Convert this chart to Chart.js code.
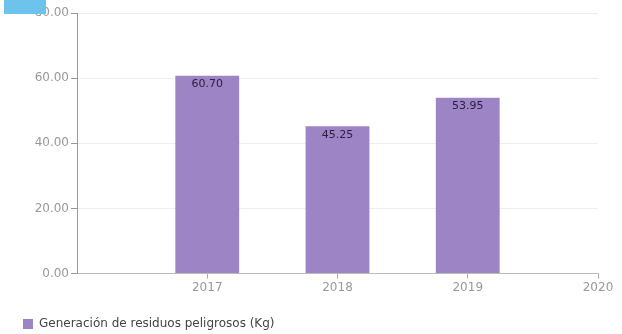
<!DOCTYPE html>
<html>
<head>
<meta charset="utf-8">
<script src="https://cdn.jsdelivr.net/npm/chart.js@4/dist/chart.umd.min.js"></script>
<style>
  html, body { margin: 0; padding: 0; background: #fff; }
  #wrap { position: relative; width: 622px; height: 334px; overflow: hidden; }
  #tag { position: absolute; left: 4px; top: 0; width: 42px; height: 14px; background: #6cc4ec; z-index: 2; }
</style>
</head>
<body>
<div id="wrap">
  <div id="tag"></div>
  <canvas id="chart" width="622" height="340"></canvas>
</div>
<script>
// Chart data
const years = ["", "2017", "2018", "2019", "2020"];
const residuos = [null, 60.70, 45.25, 53.95, null];
const seriesName = "Generación de residuos peligrosos (Kg)";
const yTicks = [0, 20, 40, 60, 80];

const barColor = "rgb(157, 132, 196)";

// draw value on top of each bar (inside)
const valueLabels = {
  id: "valueLabels",
  afterDatasetsDraw(chart) {
    const ctx = chart.ctx;
    const meta = chart.getDatasetMeta(0);
    ctx.save();
    ctx.font = "11px 'DejaVu Sans'";
    ctx.fillStyle = "#2a2140";
    ctx.textAlign = "center";
    ctx.textBaseline = "top";
    meta.data.forEach((bar, i) => {
      if (residuos[i] == null) return;
      ctx.fillText(residuos[i].toFixed(2), bar.x, bar.y + 3);
    });
    ctx.restore();
  }
};

const ctx = document.getElementById("chart").getContext("2d");
new Chart(ctx, {
  type: "bar",
  data: {
    labels: years,
    datasets: [{
      label: seriesName,
      data: residuos,
      backgroundColor: barColor,
      borderWidth: 0,
      barPercentage: 0.7,
      categoryPercentage: 0.7
    }]
  },
  options: {
    responsive: false,
    animation: false,
    layout: { padding: { left: 11, right: 24, top: 13, bottom: 0 } },
    plugins: {
      legend: {
        position: "bottom",
        align: "start",
        labels: {
          boxWidth: 10,
          boxHeight: 10,
          padding: 12,
          color: "#444",
          font: { size: 12, family: "'DejaVu Sans'" }
        }
      },
      tooltip: { enabled: false }
    },
    scales: {
      x: {
        offset: false,
        afterFit(scale) { scale.height += 9; },
        grid: {
          offset: false,
          drawOnChartArea: false,
          tickLength: 5,
          // no tick mark at the empty first slot
          tickColor: c => (c.index === 0 ? "rgba(0,0,0,0)" : "#aaa")
        },
        border: { color: "#bbb" },
        ticks: {
          color: "#999",
          padding: 2,
          font: { size: 12, family: "'DejaVu Sans'" },
          maxRotation: 0
        }
      },
      y: {
        min: 0,
        max: 80,
        afterFit(scale) { scale.width = 66; },
        afterBuildTicks(scale) { scale.ticks = yTicks.map(v => ({ value: v })); },
        grid: {
          color: "#eee",
          tickLength: 6,
          tickColor: "#999"
        },
        border: { color: "#999" },
        ticks: {
          color: "#999",
          padding: 2,
          font: { size: 12, family: "'DejaVu Sans'" },
          callback: v => Number(v).toFixed(2)
        }
      }
    }
  },
  plugins: [valueLabels]
});
</script>
</body>
</html>
